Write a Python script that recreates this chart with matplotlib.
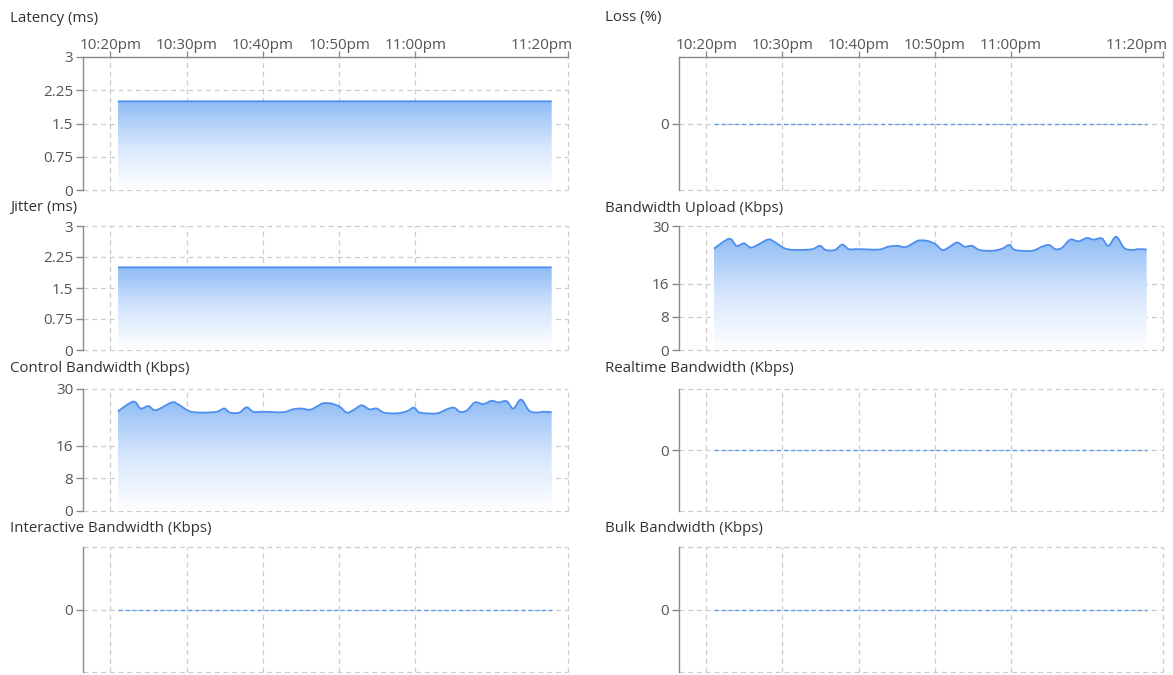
import matplotlib
matplotlib.use("Agg")
import matplotlib.pyplot as plt
import numpy as np
from matplotlib.colors import LinearSegmentedColormap
from matplotlib.path import Path
from matplotlib.patches import PathPatch

plt.rcParams['font.family'] = ['Open Sans', 'DejaVu Sans']

# ---------------- data ----------------
# time axis: minutes after 10:20pm
x_tick_minutes = [0, 10, 20, 30, 40, 60]
x_tick_labels = ["10:20pm", "10:30pm", "10:40pm", "10:50pm", "11:00pm", "11:20pm"]

series_start_end = [0.98, 57.86]
latency_ms = [2.0, 2.0]
jitter_ms = [2.0, 2.0]
loss_pct = [0.0, 0.0]
realtime_kbps = [0.0, 0.0]
interactive_kbps = [0.0, 0.0]
bulk_kbps = [0.0, 0.0]

bw_minutes = [0.98, 2.99, 3.96, 4.96, 5.97, 8.03, 8.89, 10.43, 12.17, 13.93,
              14.92, 15.67, 16.89, 17.86, 18.73, 20.04, 22.66, 23.9, 25.07, 26.16,
              27.25, 27.9, 29.0, 30.1, 30.98, 31.84, 32.94, 33.94, 34.91, 35.87,
              37.53, 38.85, 39.8, 40.59, 42.78, 44.09, 45.05, 45.84, 46.71, 47.8,
              48.89, 49.99, 50.86, 51.96, 52.83, 53.84, 54.89, 55.9, 56.76, 57.86]
control_kbps = [24.5, 26.9, 25.2, 25.8, 24.8, 26.7, 26.2, 24.5, 24.2, 24.4,
                25.2, 24.2, 24.2, 25.5, 24.4, 24.4, 24.3, 25.0, 25.2, 24.9,
                25.9, 26.5, 26.4, 25.6, 24.2, 24.8, 26.0, 25.0, 25.2, 24.2,
                24.0, 24.5, 25.4, 24.2, 24.0, 25.0, 25.4, 24.4, 24.7, 26.7,
                26.3, 27.1, 26.7, 27.0, 25.2, 27.4, 24.7, 24.2, 24.4, 24.3]
upload_kbps = [24.5, 26.9, 25.2, 25.8, 24.8, 26.7, 26.2, 24.5, 24.2, 24.4,
               25.2, 24.2, 24.2, 25.5, 24.4, 24.4, 24.3, 25.0, 25.2, 24.9,
               25.9, 26.5, 26.4, 25.6, 24.2, 24.8, 26.0, 25.0, 25.2, 24.2,
               24.0, 24.5, 25.4, 24.2, 24.0, 25.0, 25.4, 24.4, 24.7, 26.7,
               26.3, 27.1, 26.7, 27.0, 25.2, 27.4, 24.7, 24.2, 24.4, 24.3]

ms_ticks = [0, 0.75, 1.5, 2.25, 3]
ms_tick_labels = ["0", "0.75", "1.5", "2.25", "3"]
kbps_ticks = [0, 8, 16, 30]

# ---------------- style ----------------
W, H = 1173, 675
LINE = "#4d8ff0"
GRID = "#cccccc"
SPINE = "#8a8a8a"
TICKC = "#555555"
TITLEC = "#333333"
cmap = LinearSegmentedColormap.from_list("g", ["#ffffff", "#d6e6fc", "#8fbcf5"])


def smooth_path_parts(xs, ys):
    """Cubic Bezier (Catmull-Rom style) path through the given points."""
    pts = np.column_stack([xs, ys])
    n = len(pts)
    verts = [pts[0]]
    codes = [Path.MOVETO]
    for i in range(n - 1):
        p0 = pts[max(i - 1, 0)]
        p1 = pts[i]
        p2 = pts[i + 1]
        p3 = pts[min(i + 2, n - 1)]
        c1 = p1 + (p2 - p0) / 6.0
        c2 = p2 - (p3 - p1) / 6.0
        verts += [c1, c2, p2]
        codes += [Path.CURVE4] * 3
    return verts, codes


fig = plt.figure(figsize=(W / 100, H / 100), dpi=100)

col_px = [(83, 568), (679, 1163)]
row_px = [(57, 190), (226, 350), (389, 511), (547, 672)]
title_y = [18, 208, 368, 528]
title_x = [10, 605]

panels = [
    (0, 0, "Latency (ms)", "area", series_start_end, latency_ms, (0, 3), ms_ticks, ms_tick_labels),
    (1, 0, "Jitter (ms)", "area", series_start_end, jitter_ms, (0, 3), ms_ticks, ms_tick_labels),
    (2, 0, "Control Bandwidth (Kbps)", "area", bw_minutes, control_kbps, (0, 30), kbps_ticks, None),
    (3, 0, "Interactive Bandwidth (Kbps)", "zero", series_start_end, interactive_kbps, (-1, 1), [0], None),
    (0, 1, "Loss (%)", "zero", series_start_end, loss_pct, (-1, 1), [0], None),
    (1, 1, "Bandwidth Upload (Kbps)", "area", bw_minutes, upload_kbps, (0, 30), kbps_ticks, None),
    (2, 1, "Realtime Bandwidth (Kbps)", "zero", series_start_end, realtime_kbps, (-1, 1), [0], None),
    (3, 1, "Bulk Bandwidth (Kbps)", "zero", series_start_end, bulk_kbps, (-1, 1), [0], None),
]

XLIM = (-3.6, 60)

for r, c, title, kind, xs, ys, ylim, yticks, ylabels in panels:
    l, rgt = col_px[c]
    t, b = row_px[r]
    ax = fig.add_axes([l / W, 1 - b / H, (rgt - l) / W, (b - t) / H])
    xs = np.asarray(xs, float)
    ys = np.asarray(ys, float)

    if kind == "area":
        lv, lc = smooth_path_parts(xs, ys)
        fv = [np.array([xs[0], 0.0])] + lv[:]
        fc = [Path.MOVETO, Path.LINETO] + lc[1:]
        fv += [np.array([xs[-1], 0.0]), np.array([xs[0], 0.0])]
        fc += [Path.LINETO, Path.CLOSEPOLY]
        patch = PathPatch(Path(np.array(fv), fc), facecolor="none", edgecolor="none")
        ax.add_patch(patch)
        grad = np.linspace(0, 1, 256).reshape(-1, 1)
        im = ax.imshow(grad, extent=[xs[0], xs[-1], 0, ys.max()], origin="lower",
                       aspect="auto", cmap=cmap, zorder=1, interpolation="bicubic")
        im.set_clip_path(patch)
        line = PathPatch(Path(np.array(lv), lc), facecolor="none", edgecolor=LINE,
                         lw=1.3, zorder=3, joinstyle="round")
        ax.add_patch(line)
    else:
        ax.plot(xs, ys, color=LINE, lw=1.0, ls=(0, (3, 2)), zorder=3, alpha=0.85)
        for yy in ylim:
            ax.axhline(yy, color=GRID, lw=0.9, ls=(0, (4, 3)), zorder=0, clip_on=False)

    ax.set_xlim(*XLIM)
    ax.set_ylim(*ylim)
    ax.set_xticks(x_tick_minutes)
    ax.set_yticks(yticks)
    if ylabels is not None:
        ax.set_yticklabels(ylabels)

    ax.grid(True, color=GRID, lw=0.9, ls=(0, (4, 3)), zorder=0)
    ax.set_axisbelow(True)
    for g in ax.get_xgridlines() + ax.get_ygridlines():
        g.set_clip_on(False)

    for s in ["right", "bottom"]:
        ax.spines[s].set_visible(False)
    ax.spines["left"].set_color(SPINE)
    ax.spines["left"].set_linewidth(1.0)

    ax.tick_params(axis="y", length=5, width=1.0, color=SPINE, labelcolor=TICKC,
                   labelsize=11, pad=2)
    if r == 0:
        ax.xaxis.tick_top()
        ax.set_xticklabels(x_tick_labels)
        ax.spines["top"].set_color(SPINE)
        ax.spines["top"].set_linewidth(1.0)
        ax.tick_params(axis="x", top=True, bottom=False, length=4, width=1.0,
                       color=SPINE, labelcolor=TICKC, labelsize=11, pad=-1)
        last = ax.get_xticklabels()[-1]
        last.set_horizontalalignment("right")
        from matplotlib.transforms import ScaledTranslation
        last.set_transform(last.get_transform() + ScaledTranslation(0.05, 0, fig.dpi_scale_trans))
    else:
        ax.spines["top"].set_visible(False)
        ax.tick_params(axis="x", top=False, bottom=False, labeltop=False, labelbottom=False)

    ax.set_facecolor("none")
    fig.text(title_x[c] / W, 1 - title_y[r] / H, title, ha="left", va="center",
             fontsize=10.8, color=TITLEC)

fig.savefig("out.png", dpi=100, facecolor="white")
